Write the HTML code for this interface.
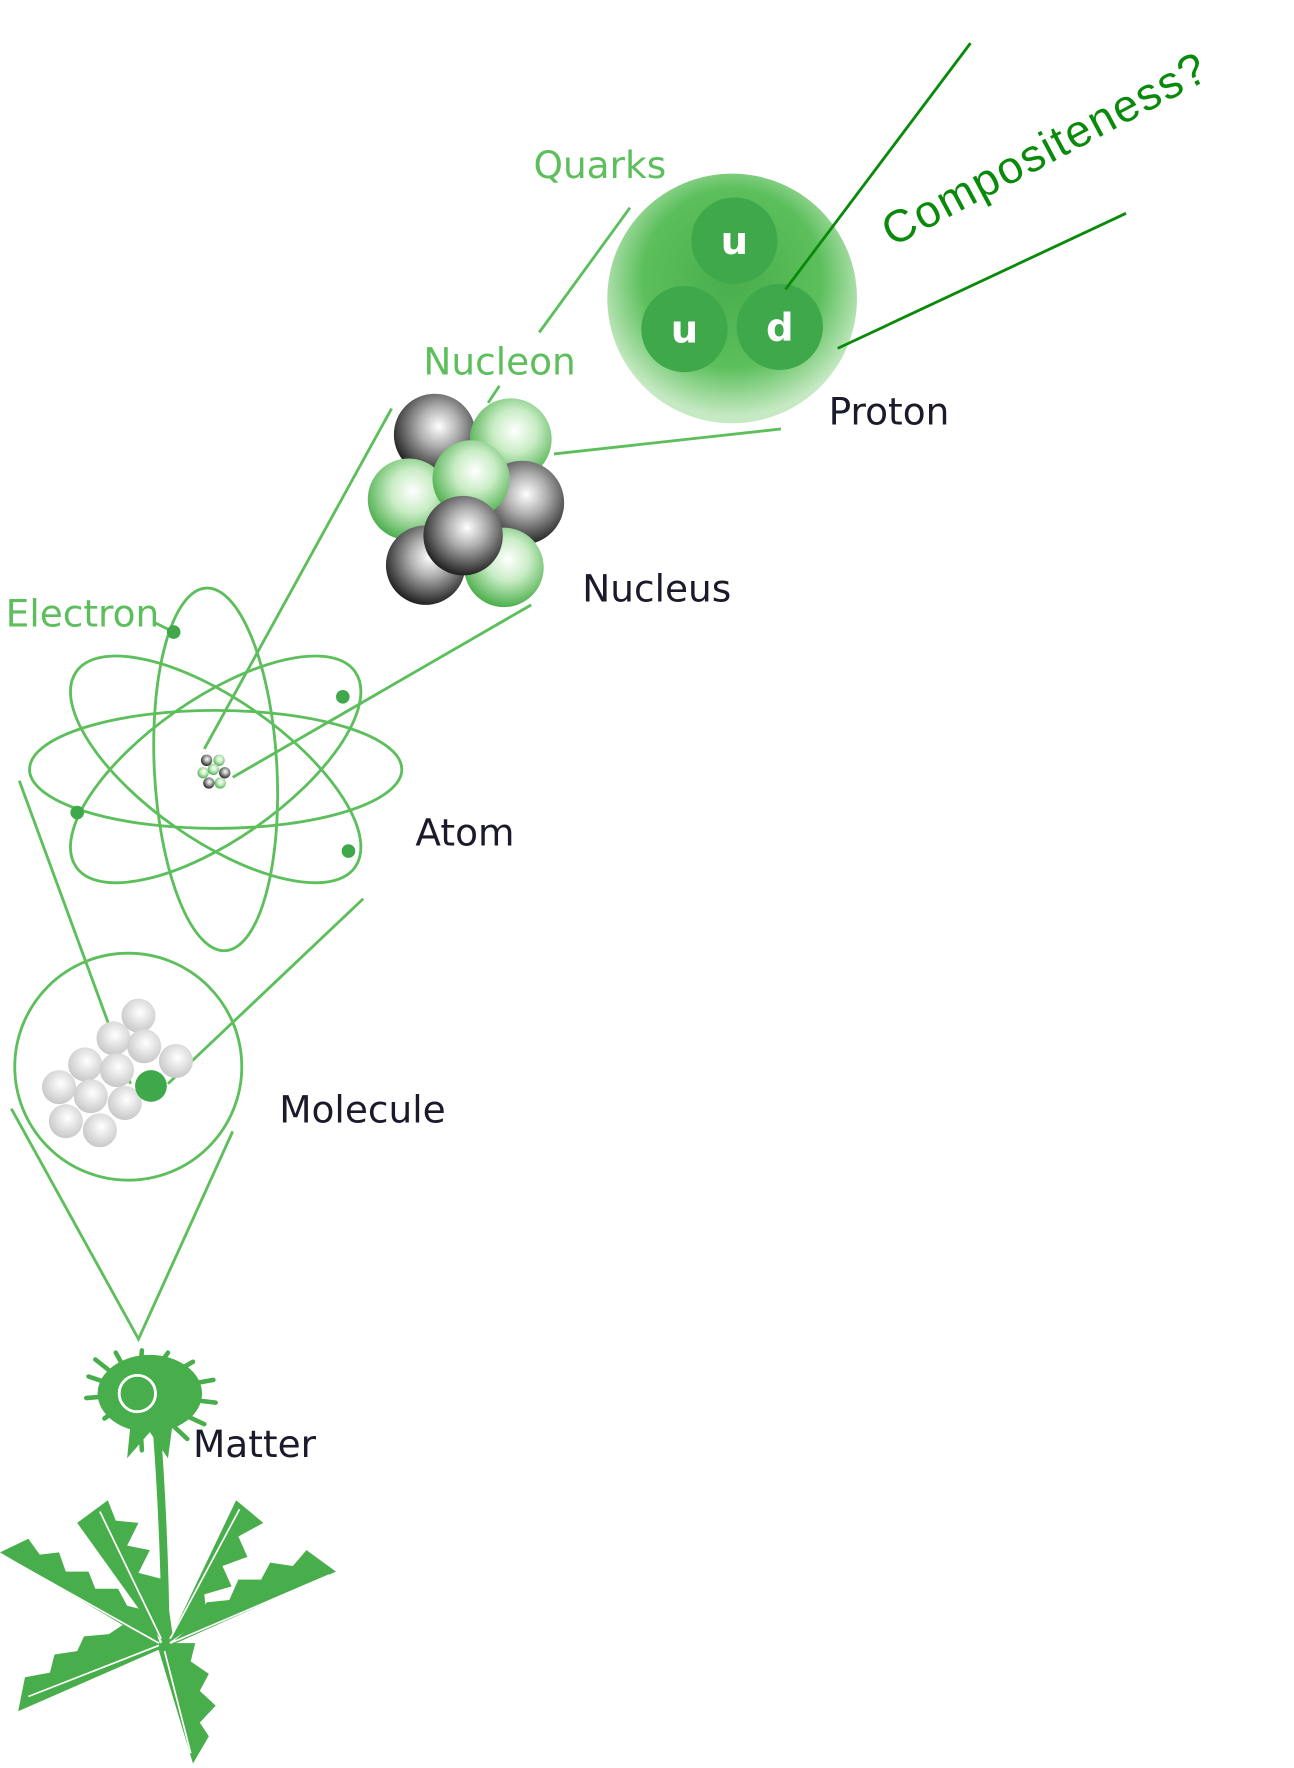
<!DOCTYPE html>
<html><head><meta charset="utf-8"><style>
html,body{margin:0;padding:0;background:#fff;}
svg{display:block;}
text{font-family:"DejaVu Sans","Liberation Sans",sans-serif;}
</style></head><body>
<svg width="1294" height="1768" viewBox="0 0 1140 1558" preserveAspectRatio="none" xmlns="http://www.w3.org/2000/svg">
<defs>
<radialGradient id="pg" cx="50%" cy="42%" r="55%">
<stop offset="0" stop-color="#48ad4b"/><stop offset="0.65" stop-color="#5cbf5c"/><stop offset="1" stop-color="#c5e9c2"/>
</radialGradient>
<radialGradient id="gs" cx="55%" cy="40%" r="60%">
<stop offset="0" stop-color="#ffffff"/><stop offset="0.45" stop-color="#c8ecc4"/><stop offset="1" stop-color="#4fb04f"/>
</radialGradient>
<radialGradient id="ds" cx="55%" cy="40%" r="60%">
<stop offset="0" stop-color="#ffffff"/><stop offset="0.4" stop-color="#b0b0b0"/><stop offset="1" stop-color="#222"/>
</radialGradient>
<radialGradient id="ws" cx="55%" cy="40%" r="60%">
<stop offset="0" stop-color="#fff"/><stop offset="1" stop-color="#c8c8c8"/>
</radialGradient>
</defs>

<g stroke="#5cbf5c" stroke-width="2.5" fill="none">
<line x1="555" y1="183" x2="475" y2="293"/>
<line x1="440" y1="340" x2="430" y2="355"/>
<line x1="688" y1="378" x2="488" y2="400"/>
<line x1="345" y1="360" x2="180" y2="660"/>
<line x1="468" y1="533" x2="205" y2="685"/>
<line x1="17" y1="688" x2="115" y2="955"/>
<line x1="320" y1="792" x2="148" y2="955"/>
<polyline points="10,977 122,1180 205,997"/>
<line x1="135" y1="548" x2="153" y2="557"/>
</g>

<!-- proton -->
<circle cx="645" cy="263" r="110" fill="url(#pg)"/>
<circle cx="647" cy="212" r="38" fill="#3fa84a"/>
<circle cx="603" cy="290" r="38" fill="#3fa84a"/>
<circle cx="687" cy="288" r="38" fill="#3fa84a"/>
<g fill="#fff" font-size="34" font-weight="bold" text-anchor="middle">
<text x="647" y="224">u</text><text x="603" y="302">u</text><text x="687" y="300">d</text>
</g>
<g stroke="#0a8a0a" stroke-width="2.5">
<line x1="855" y1="38" x2="692" y2="255"/>
<line x1="992" y1="188" x2="738" y2="307"/>
</g>
<text x="786" y="218" font-size="40" fill="#0a8a0a" letter-spacing="1.5" transform="rotate(-28 786 218)" style="font-family:'Liberation Sans',sans-serif">Compositeness?</text>

<!-- nucleus -->
<circle cx="383" cy="383" r="36" fill="url(#ds)"/>
<circle cx="450" cy="387" r="36" fill="url(#gs)"/>
<circle cx="460" cy="443" r="37" fill="url(#ds)"/>
<circle cx="360" cy="440" r="36" fill="url(#gs)"/>
<circle cx="375" cy="498" r="35" fill="url(#ds)"/>
<circle cx="444" cy="500" r="35" fill="url(#gs)"/>
<circle cx="415" cy="422" r="34" fill="url(#gs)"/>
<circle cx="408" cy="472" r="35" fill="url(#ds)"/>

<!-- atom -->
<g stroke="#5cbf5c" stroke-width="2.5" fill="none">
<ellipse cx="190" cy="678" rx="164" ry="52"/>
<ellipse cx="190" cy="678" rx="54" ry="160" transform="rotate(-3 190 678)"/>
<ellipse cx="190" cy="678" rx="150" ry="62" transform="rotate(35 190 678)"/>
<ellipse cx="190" cy="678" rx="150" ry="62" transform="rotate(-35 190 678)"/>
</g>
<g fill="#3fa84a">
<circle cx="153" cy="557" r="6"/><circle cx="302" cy="614" r="6"/><circle cx="68" cy="716" r="6"/><circle cx="307" cy="750" r="6"/>
</g>
<g>
<circle cx="182" cy="670" r="5" fill="url(#ds)"/><circle cx="193" cy="670" r="5" fill="url(#gs)"/>
<circle cx="179" cy="681" r="5" fill="url(#gs)"/><circle cx="198" cy="681" r="5" fill="url(#ds)"/>
<circle cx="188" cy="678" r="5" fill="url(#gs)"/><circle cx="184" cy="690" r="5" fill="url(#ds)"/><circle cx="194" cy="690" r="5" fill="url(#gs)"/>
</g>

<!-- molecule -->
<circle cx="113" cy="940" r="100" fill="none" stroke="#5cbf5c" stroke-width="2.5"/>
<g fill="url(#ws)">
<circle cx="122" cy="895" r="15"/><circle cx="100" cy="915" r="15"/><circle cx="127" cy="922" r="15"/>
<circle cx="155" cy="935" r="15"/><circle cx="75" cy="938" r="15"/><circle cx="103" cy="943" r="15"/>
<circle cx="52" cy="958" r="15"/><circle cx="80" cy="966" r="15"/><circle cx="110" cy="972" r="15"/>
<circle cx="58" cy="988" r="15"/><circle cx="88" cy="996" r="15"/>
</g>
<circle cx="133" cy="957" r="14" fill="#3fa84a"/>

<!-- dandelion -->
<g fill="#48ad4b" stroke="#48ad4b">
<path d="M138,1258 Q145,1350 146,1450" stroke-width="7" fill="none"/>
<g stroke-width="4" stroke-linecap="round">
<line x1="122" y1="1228" x2="78" y2="1213"/><line x1="122" y1="1228" x2="76" y2="1232"/><line x1="122" y1="1228" x2="84" y2="1198"/>
<line x1="122" y1="1228" x2="102" y2="1192"/><line x1="122" y1="1228" x2="125" y2="1190"/><line x1="122" y1="1228" x2="148" y2="1192"/><line x1="122" y1="1228" x2="170" y2="1200"/>
<line x1="122" y1="1228" x2="188" y2="1216"/><line x1="122" y1="1228" x2="190" y2="1236"/><line x1="122" y1="1228" x2="180" y2="1255"/>
<line x1="122" y1="1228" x2="165" y2="1268"/><line x1="122" y1="1228" x2="125" y2="1278"/><line x1="122" y1="1228" x2="92" y2="1250"/>
</g>
<ellipse cx="132" cy="1228" rx="46" ry="34" stroke="none"/>
<path d="M115,1255 L112,1285 L132,1262 L148,1285 L152,1255 Z" stroke="none"/>
</g>
<circle cx="121" cy="1228" r="16" fill="#48ad4b" stroke="#fff" stroke-width="2.5"/>
<g fill="#48ad4b">
<path d="M144,1448 L68,1342 L95,1322 L102,1340 L122,1342 L112,1362 L132,1366 L122,1386 L145,1392 L152,1440 Z"/>
<path d="M148,1448 L208,1322 L232,1342 L210,1354 L218,1372 L196,1380 L204,1398 L180,1405 L182,1425 Z"/>
<path d="M142,1452 L0,1368 L25,1356 L35,1370 L52,1368 L58,1385 L78,1385 L84,1400 L104,1400 L112,1415 L132,1420 Z"/>
<path d="M146,1452 L296,1385 L270,1366 L258,1380 L238,1377 L230,1392 L210,1392 L202,1410 L182,1412 L172,1430 Z"/>
<path d="M144,1452 L16,1508 L22,1478 L44,1474 L48,1458 L68,1455 L74,1442 L96,1440 L108,1432 Z"/>
<path d="M138,1448 L170,1554 L184,1530 L176,1518 L190,1503 L176,1490 L184,1475 L168,1464 L172,1448 Z"/>
</g>
<g stroke="#fff" stroke-width="1.5" fill="none">
<line x1="88" y1="1332" x2="142" y2="1444"/><line x1="211" y1="1330" x2="150" y2="1444"/>
<line x1="5" y1="1372" x2="140" y2="1448"/><line x1="290" y1="1388" x2="150" y2="1448"/>
<line x1="25" y1="1495" x2="140" y2="1450"/><line x1="168" y1="1545" x2="145" y2="1455"/>
</g>

<!-- labels -->
<g font-size="33" fill="#5cbf5c">
<text x="470" y="157">Quarks</text>
<text x="373" y="330">Nucleon</text>
<text x="5" y="552">Electron</text>
</g>
<g font-size="33" fill="#1a1a2a">
<text x="730" y="374">Proton</text>
<text x="513" y="530">Nucleus</text>
<text x="366" y="745">Atom</text>
<text x="246" y="989">Molecule</text>
<text x="170" y="1284">Matter</text>
</g>
</svg>
</body></html>
